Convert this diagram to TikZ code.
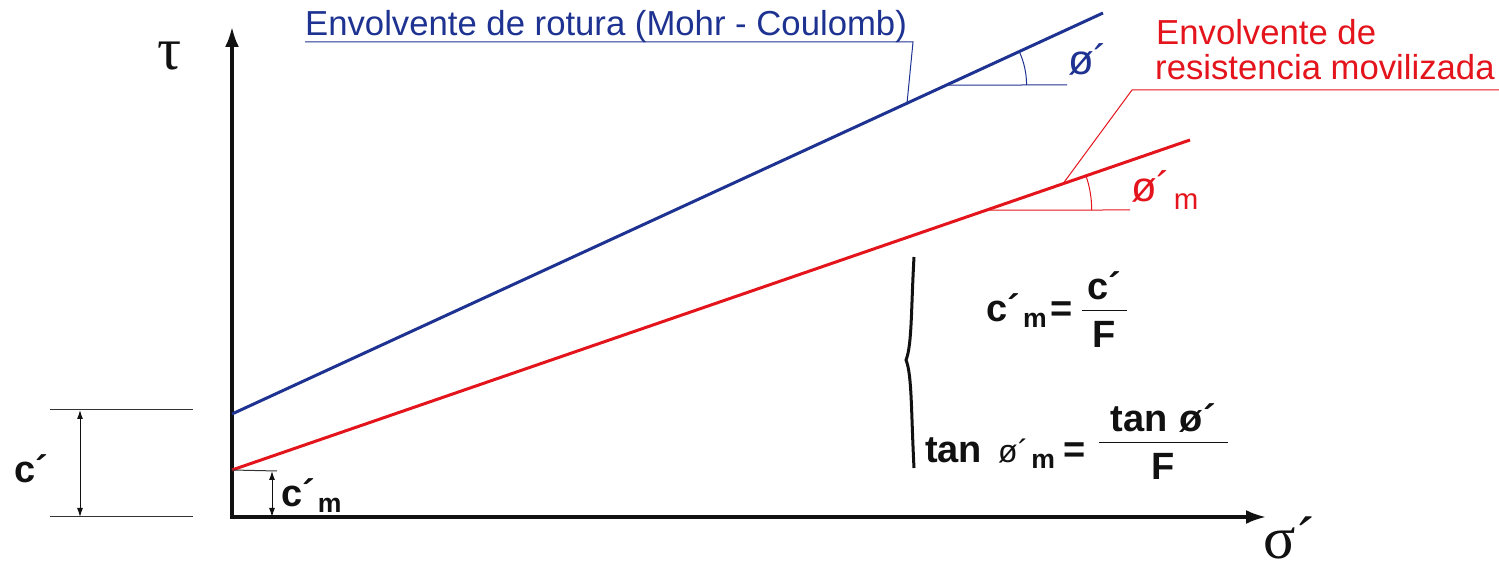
\documentclass[tikz,border=0pt]{standalone}
\usepackage{fontspec}
\setmainfont{Liberation Sans}
\newfontfamily\mcgreekfont{Liberation Serif}
\usetikzlibrary{arrows.meta, positioning, calc}
\definecolor{mcBlue}{HTML}{1E3391}
\definecolor{mcRed}{HTML}{E4141C}
\definecolor{mcInk}{HTML}{111111}
\definecolor{mcRule}{HTML}{333333}
\tikzset{
  mcaxis/.style={
    draw=mcInk, line width=3.2pt,
    {Latex[length=20pt, width=14pt]}-{Latex[length=20pt, width=14pt]},
  },
  mcenv/.style={draw=#1, line width=3pt},
  mcthin/.style={draw=#1, line width=1pt},
  mcdim/.style={
    draw=mcInk, line width=1pt,
    {Latex[length=9pt, width=6pt]}-{Latex[length=9pt, width=6pt]},
  },
  mclabel/.style={
    text=#1, inner sep=0pt, anchor=base west,
    font=\fontsize{34.7}{36}\selectfont,
  },
  mcangle/.style={
    text=#1, inner sep=0pt, anchor=base west,
    font=\fontsize{42}{44}\selectfont,
  },
  mcbold/.style={
    text=mcInk, inner sep=0pt, anchor=base west,
    font=\bfseries\fontsize{38}{40}\selectfont,
  },
  mcgreek/.style={
    text=mcInk, inner sep=0pt, anchor=base west,
    font=\mcgreekfont\fontsize{60}{60}\selectfont,
  },
}
\newcommand{\mcsub}[1]{\hspace{3pt}\textsubscript{#1}}
% fraction: raise, numerator, denominator
\newcommand{\mcfrac}[3]{\raisebox{#1}{$\displaystyle
  \frac{\mbox{#2}}{\mbox{\rule{0pt}{36pt}#3}}$}}

\begin{document}
\begin{tikzpicture}[x=1pt, y=1pt]
\useasboundingbox (0,0) rectangle (1499,570);

% Axes --------------------------------------------------------------------
\coordinate (O) at (232,53);
\coordinate (ytop) at (232,543);
\coordinate (xend) at (1266,53);
\draw[mcaxis] (ytop) -- (O) -- (xend);
\node[mcgreek] (tau) at (157,500) {τ};
\node[mcgreek] (sigma) at (1263,11) {σ´};

% Envelopes ---------------------------------------------------------------
\coordinate (b0) at (232,156);
\coordinate (b1) at (1103,557);
\coordinate (r0) at (232,100);
\coordinate (r1) at (1190,430);
\draw[mcenv=mcBlue] (b0) -- (b1);
\draw[mcenv=mcRed] (r0) -- (r1);

% Friction angles
\coordinate (bv) at ($(b0)!0.8204!(b1)$);
\coordinate (bh) at (1067,485);
\draw[mcthin=mcBlue] (bv) -- (bh);
\draw[mcthin=mcBlue] ($(bv)+(80,0)$) arc[start angle=0, end angle=24.7, radius=80];
\node[mcangle=mcBlue] (phib) at (1068,495) {ø´};

\coordinate (rv) at ($(r0)!0.7878!(r1)$);
\coordinate (rh) at (1130,360);
\draw[mcthin=mcRed] (rv) -- (rh);
\draw[mcthin=mcRed] ($(rv)+(105,0)$) arc[start angle=0, end angle=19, radius=105];
\node[mcangle=mcRed] (phir) at (1131,368) {ø´\mcsub{m}};

% Labels with leaders -----------------------------------------------------
\node[mclabel=mcBlue] (blab) at (305,534) {Envolvente de rotura (Mohr - Coulomb)};
\coordinate (bfoot) at ($(b0)!0.775!(b1)$);
\coordinate (bknee) at (913,528);
\draw[mcthin=mcBlue] (305,528) -- (bknee) -- (bfoot);

\node[mclabel=mcRed] (rlab1) at (1156,525) {Envolvente de};
\node[mclabel=mcRed] (rlab2) at ($(rlab1.base west)+(-1,-35)$) {resistencia movilizada};
\coordinate (rfoot) at ($(r0)!0.8674!(r1)$);
\coordinate (rknee) at (1132,480);
\draw[mcthin=mcRed] (rfoot) -- (rknee) -- (1499,480);

% Cohesion dimensions -----------------------------------------------------
\draw[mcthin=mcRule] (50,160) -- (193,160);
\draw[mcthin=mcRule] (50,53) -- (193,53);
\draw[mcdim] (80,160) -- (80,53);
\node[mcbold] (coh) at (14,87) {c´};

\coordinate (cm) at (272,99);
\draw[mcthin=mcRule] (r0) -- (277,99);
\draw[mcdim] (cm) -- (cm |- O);
\node[mcbold] (cohm) at (281,63) {c´\mcsub{m}};

% Safety factor -----------------------------------------------------------
\draw[draw=mcInk, line width=3pt] (914,313) .. controls (911,260) and (912,225) ..
  (906,210) .. controls (912,195) and (911,160) .. (914,102);
\node[mcbold] (fc) at (986,248)
  {c´\mcsub{m}\hspace{3pt}=\hspace{8pt}\mcfrac{6pt}{\hspace{6pt}c´\hspace{6pt}}{F}};
\node[mcbold] (fphi) at (925,107)
  {tan\hspace{16pt}{\mdseries\fontsize{32}{32}\selectfont ø´}\mcsub{m}\hspace{8pt}=\hspace{12pt}%
   \mcfrac{15pt}{\hspace{12pt}tan\hspace{12pt}ø´\hspace{12pt}}{F}};

\end{tikzpicture}
\end{document}
